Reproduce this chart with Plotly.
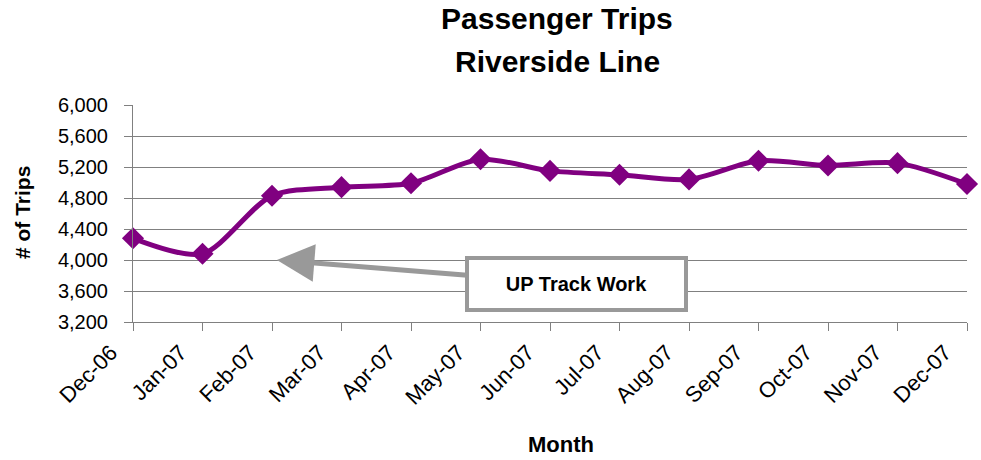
import plotly.graph_objects as go

months = ["Dec-06", "Jan-07", "Feb-07", "Mar-07", "Apr-07", "May-07", "Jun-07",
          "Jul-07", "Aug-07", "Sep-07", "Oct-07", "Nov-07", "Dec-07"]
trips = [4280, 4080, 4830, 4940, 4990, 5300, 5150, 5100, 5040, 5280, 5220, 5250, 4980]
y_ticks = [3200, 3600, 4000, 4400, 4800, 5200, 5600, 6000]
title_lines = ["Passenger Trips", "Riverside Line"]

FONT = "Arial, Liberation Sans, sans-serif"
PURPLE = "#800080"
GRAY = "#999999"

W, H = 981, 460
L, R, T, B = 133, 14, 105, 138
PW, PH = W - L - R, H - T - B


def px_x(px):  # page px -> paper fraction
    return (px - L) / PW


def px_y(py):
    return (H - B - py) / PH


fig = go.Figure()
fig.add_trace(go.Scatter(
    x=months, y=trips, mode="lines+markers",
    line=dict(color=PURPLE, width=5, shape="spline", smoothing=0.8),
    marker=dict(symbol="diamond", size=17, color=PURPLE),
    cliponaxis=False, showlegend=False,
))

fig.add_annotation(
    x=2.07, y=4000, xref="x", yref="y",
    text="<b>UP Track Work</b>", showarrow=True,
    ax=300, ay=24, axref="pixel", ayref="pixel",
    arrowhead=2, arrowsize=1.5, arrowwidth=5, arrowcolor=GRAY,
    bordercolor=GRAY, borderwidth=4, borderpad=4, bgcolor="white",
    width=207, height=40,
    font=dict(family=FONT, size=20, color="black"),
)

# Title lines
for txt, cy in zip(title_lines, [19, 61]):
    fig.add_annotation(
        x=px_x(557), y=px_y(cy), xref="paper", yref="paper",
        xanchor="center", yanchor="middle", showarrow=False,
        text=f"<b>{txt}</b>", font=dict(family=FONT, size=30, color="black"),
    )

# Axis titles
fig.add_annotation(
    x=px_x(22), y=px_y(213), xref="paper", yref="paper",
    xanchor="center", yanchor="middle", showarrow=False, textangle=-90,
    text="<b># of Trips</b>", font=dict(family=FONT, size=21, color="black"),
)
fig.add_annotation(
    x=px_x(561), y=px_y(444), xref="paper", yref="paper",
    xanchor="center", yanchor="middle", showarrow=False,
    text="<b>Month</b>", font=dict(family=FONT, size=22, color="black"),
)

fig.update_layout(
    width=W, height=H,
    margin=dict(l=L, r=R, t=T, b=B),
    paper_bgcolor="white", plot_bgcolor="white",
    font=dict(family=FONT, color="black"),
)
fig.update_xaxes(
    type="category", range=[0, 12], automargin=False,
    showgrid=False, showline=True, linecolor="#808080", linewidth=1,
    ticks="outside", ticklen=8, tickcolor="#808080",
    tickangle=-45, tickfont=dict(family=FONT, size=22),
    ticklabelstandoff=0, ticklabelshift=-22,
)
fig.update_yaxes(
    range=[3200, 6000], tickvals=y_ticks, tickformat=",d", automargin=False,
    showgrid=True, gridcolor="#808080", gridwidth=1,
    showline=True, linecolor="#808080", linewidth=1,
    ticks="outside", ticklen=8, tickcolor="#808080",
    tickfont=dict(family=FONT, size=20), zeroline=False,
    ticklabelstandoff=12,
)

fig.write_html("out.html", config={"displayModeBar": False},
               post_script="document.body.style.margin='0';")
